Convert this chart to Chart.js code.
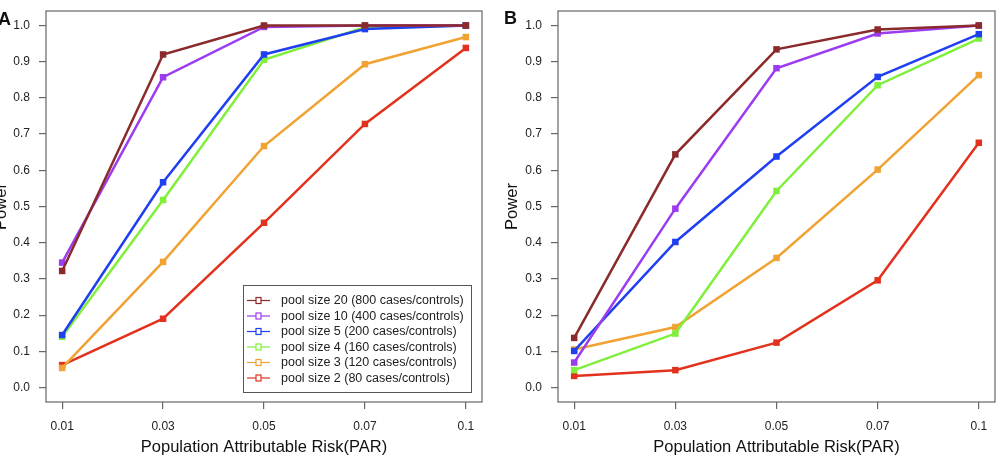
<!DOCTYPE html>
<html>
<head>
<meta charset="utf-8">
<script src="https://cdn.jsdelivr.net/npm/chart.js@4.4.1/dist/chart.umd.min.js"></script>
<style>
  html, body { margin: 0; padding: 0; background: #fff; overflow: hidden; }
  body { width: 996px; height: 458px; position: relative; }
  canvas { position: absolute; top: 0; }
  #panelA { left: -9px; }
  #panelB { left: 502px; }
</style>
</head>
<body>
<canvas id="panelA" width="501" height="458"></canvas>
<canvas id="panelB" width="498" height="458"></canvas>
<script>
// x categories and y ticks
const parLabels = ['0.01', '0.03', '0.05', '0.07', '0.1'];
const powerTicks = [0, 0.1, 0.2, 0.3, 0.4, 0.5, 0.6, 0.7, 0.8, 0.9, 1.0];

const seriesNames = [
  'pool size 20 (800 cases/controls)',
  'pool size 10 (400 cases/controls)',
  'pool size 5 (200 cases/controls)',
  'pool size 4 (160 cases/controls)',
  'pool size 3 (120 cases/controls)',
  'pool size 2 (80 cases/controls)'
];
const seriesColors = ['#8b2a2a', '#9b3cf0', '#1f3ff0', '#7ff03a', '#f0a232', '#e2321e'];

// panel A
const powerA20 = [0.322, 0.920, 1.000, 1.000, 1.000];
const powerA10 = [0.345, 0.857, 0.996, 1.000, 1.000];
const powerA5  = [0.145, 0.567, 0.920, 0.990, 1.000];
const powerA4  = [0.140, 0.518, 0.905, 0.995, 1.000];
const powerA3  = [0.054, 0.347, 0.667, 0.893, 0.968];
const powerA2  = [0.062, 0.190, 0.455, 0.728, 0.938];

// panel B
const powerB20 = [0.137, 0.644, 0.934, 0.989, 1.000];
const powerB10 = [0.069, 0.494, 0.882, 0.978, 1.000];
const powerB5  = [0.101, 0.402, 0.638, 0.858, 0.976];
const powerB4  = [0.048, 0.149, 0.543, 0.835, 0.964];
const powerB3  = [0.105, 0.167, 0.358, 0.602, 0.863];
const powerB2  = [0.032, 0.048, 0.124, 0.296, 0.676];

const FONT = "'Liberation Sans', Arial, Helvetica, sans-serif";

// box around the plot, panel letter and (optionally) the legend
const framePlugin = {
  id: 'frame',
  afterDraw(chart, args, opts) {
    const { ctx, chartArea: a } = chart;
    ctx.save();
    ctx.strokeStyle = '#666';
    ctx.lineWidth = 1.2;
    ctx.strokeRect(a.left, a.top, a.right - a.left, a.bottom - a.top);

    ctx.fillStyle = '#111';
    ctx.font = 'bold 18px ' + FONT;
    ctx.textBaseline = 'alphabetic';
    ctx.textAlign = 'left';
    ctx.fillText(opts.letter, opts.letterX, opts.letterY);

    if (opts.legend) {
      const L = opts.legend;
      ctx.strokeStyle = '#555';
      ctx.lineWidth = 1;
      ctx.strokeRect(L.x + 0.5, L.y + 0.5, L.w, L.h);
      ctx.font = '12.5px ' + FONT;
      ctx.textBaseline = 'middle';
      chart.data.datasets.forEach((ds, i) => {
        const y = L.y + 15.5 + i * 15.5;
        ctx.strokeStyle = ds.borderColor;
        ctx.lineWidth = 1.2;
        ctx.beginPath();
        ctx.moveTo(L.x + 4, y);
        ctx.lineTo(L.x + 27, y);
        ctx.stroke();
        ctx.fillStyle = '#fff';
        ctx.fillRect(L.x + 13, y - 3, 5, 6);
        ctx.strokeRect(L.x + 13, y - 3, 5, 6);
        ctx.fillStyle = '#222';
        ctx.fillText(ds.label, L.x + 38, y + 0.5);
      });
    }
    ctx.restore();
  }
};

function makePanel(id, series, yAxisWidth, padRight, frame) {
  const datasets = series.map((vals, i) => ({
    label: seriesNames[i],
    data: vals.map((v, k) => ({ x: k, y: v })),
    borderColor: seriesColors[i],
    backgroundColor: seriesColors[i],
    borderWidth: 2.5,
    pointStyle: 'rect',
    pointRadius: 4.6,
    pointBorderWidth: 0,
    tension: 0
  }));

  return new Chart(document.getElementById(id), {
    type: 'line',
    data: { datasets: datasets },
    plugins: [framePlugin],
    options: {
      responsive: false,
      animation: false,
      layout: { padding: { top: 11, right: padRight, left: 0, bottom: 0 } },
      plugins: {
        legend: { display: false },
        tooltip: { enabled: false },
        frame: frame
      },
      scales: {
        x: {
          type: 'linear',
          min: -0.16,
          max: 4.16,
          afterBuildTicks: s => { s.ticks = parLabels.map((_, k) => ({ value: k })); },
          afterFit: s => { s.height = 56; s.paddingLeft = 0; s.paddingRight = 0; },
          grid: { drawOnChartArea: false, color: '#666', tickLength: 7, lineWidth: 1.2 },
          border: { display: false },
          ticks: {
            padding: 10,
            color: '#222',
            font: { family: FONT, size: 12 },
            maxRotation: 0,
            callback: v => parLabels[v]
          },
          title: {
            display: true,
            text: 'Population Attributable Risk(PAR)',
            color: '#111',
            font: { family: FONT, size: 16.5 },
            padding: { top: 0, bottom: 1 }
          }
        },
        y: {
          min: -0.04,
          max: 1.04,
          afterBuildTicks: s => { s.ticks = powerTicks.map(v => ({ value: v })); },
          afterFit: s => { s.width = yAxisWidth; s.paddingTop = 0; s.paddingBottom = 0; },
          grid: { drawOnChartArea: false, color: '#666', tickLength: 7, lineWidth: 1.2 },
          border: { display: false },
          ticks: {
            padding: 9,
            color: '#222',
            font: { family: FONT, size: 12 },
            callback: v => v.toFixed(1)
          },
          title: {
            display: true,
            text: 'Power',
            color: '#111',
            font: { family: FONT, size: 16.5 },
            padding: { top: 1, bottom: 0 }
          }
        }
      }
    }
  });
}

makePanel('panelA', [powerA20, powerA10, powerA5, powerA4, powerA3, powerA2], 55, 10, {
  letter: 'A', letterX: 7, letterY: 25,
  legend: { x: 252, y: 285, w: 228, h: 107 }
});

// canvas B runs a few px past the window so the frame ends at x=995
makePanel('panelB', [powerB20, powerB10, powerB5, powerB4, powerB3, powerB2], 56, 5, {
  letter: 'B', letterX: 2, letterY: 24
});
</script>
</body>
</html>
